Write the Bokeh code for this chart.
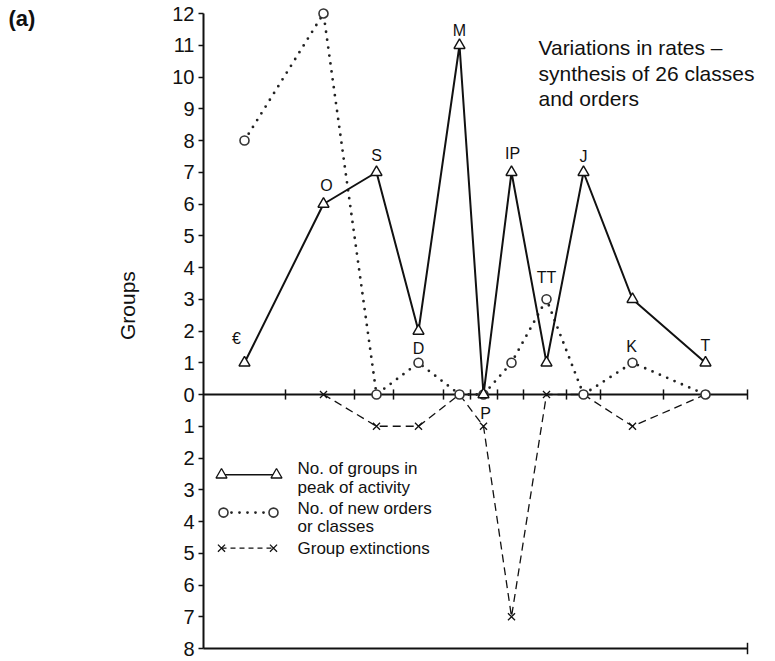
from math import pi
from bokeh.plotting import figure
from bokeh.models import Range1d, FixedTicker, ColumnDataSource
from bokeh.core.properties import value
from bokeh.embed import file_html
from bokeh.resources import INLINE

# ---------------- data ----------------
periods = ["€", "O", "S", "D", "M", "P", "IP", "TT", "J", "K", "T"]
period_x = [41, 120, 173, 215, 256, 280, 308, 343, 380, 429, 502]
peak_groups = [1, 6, 7, 2, 11, 0, 7, 1, 7, 3, 1]          # No. of groups in peak of activity
new_orders = [8, 12, 0, 1, 0, 0, 1, 3, 0, 1, 0]            # No. of new orders or classes
ext_x = [120, 173, 215, 256, 280, 308, 343, 380, 429, 502]
extinctions = [0, 1, 1, 0, 1, 7, 0, 0, 1, 0]               # Group extinctions (plotted downward)
boundaries = [82, 151, 190, 240, 267, 294, 320, 363, 397, 460]
x_end = 544
y_ticks = list(range(-8, 13))

legend_labels = ["No. of groups in", "peak of activity", "No. of new orders", "or classes", "Group extinctions"]
title_lines = ["Variations in rates –", "synthesis of 26 classes", "and orders"]

FONT = "Liberation Sans"
INK = "#111111"

p = figure(width=771, height=658, output_backend="svg", toolbar_location=None,
           x_range=Range1d(0, x_end), y_range=Range1d(-8, 12),
           min_border_left=203, min_border_right=24, min_border_top=13, min_border_bottom=10)
p.outline_line_color = None
p.xgrid.visible = False
p.ygrid.visible = False
p.xaxis.visible = False

ya = p.yaxis[0]
ya.ticker = FixedTicker(ticks=y_ticks)
ya.major_label_overrides = {t: str(abs(t)) for t in y_ticks}
ya.axis_line_width = 2
ya.axis_line_color = INK
ya.major_tick_out = 5
ya.major_tick_in = 0
ya.major_tick_line_width = 1.5
ya.major_tick_line_color = INK
ya.minor_tick_line_color = None
ya.major_label_standoff = 4
ya.major_label_text_font = FONT
ya.major_label_text_font_size = "20px"
ya.major_label_text_color = INK

# zero line and bottom line with ticks
p.segment(x0=[0], y0=[0], x1=[x_end], y1=[0], line_color=INK, line_width=2, level="overlay")
p.segment(x0=[0], y0=[-8], x1=[x_end], y1=[-8], line_color=INK, line_width=2, level="overlay")
p.segment(x0=boundaries + [x_end], y0=[-0.16] * (len(boundaries) + 1),
          x1=boundaries + [x_end], y1=[0.16] * (len(boundaries) + 1),
          line_color=INK, line_width=1.5, level="overlay")
p.segment(x0=[x_end], y0=[-8.18], x1=[x_end], y1=[-7.82], line_color=INK, line_width=1.5, level="overlay")

# series
src_peak = ColumnDataSource(dict(x=period_x, y=peak_groups))
src_new = ColumnDataSource(dict(x=period_x, y=new_orders))
src_ext = ColumnDataSource(dict(x=ext_x, y=[-v for v in extinctions]))

p.line("x", "y", source=src_ext, line_color=INK, line_width=1.3, line_dash="8 5", level="overlay")
p.line("x", "y", source=src_new, line_color="#222222", line_width=2.8, line_dash="0 8",
       line_cap="round", level="overlay")
p.line("x", "y", source=src_peak, line_color=INK, line_width=2, level="overlay")
p.scatter("x", "y", source=src_ext, marker="x", size=10, line_color=INK, line_width=1.3, level="overlay")
p.scatter("x", "y", source=src_new, marker="circle", size=9, fill_color="white",
          line_color="#333333", line_width=1.6, level="overlay")
p.scatter("x", "y", source=src_peak, marker="triangle", size=11, fill_color="white",
          line_color=INK, line_width=1.4, level="overlay")

# period labels (anchored on a series point, offset in screen px)
anchor_y = [peak_groups[0], peak_groups[1], peak_groups[2], peak_groups[3], peak_groups[4],
            peak_groups[5], peak_groups[6], new_orders[7], peak_groups[8], new_orders[9], peak_groups[10]]
lab_dx = [-8, 3, 0, 0, 0, 2, 1, 0, 0, -1, 0]
lab_dy = [-24, -19, -17, 17, -15, 19, -19, -22, -16, -16, -17]
p.text(x=period_x, y=anchor_y, text=periods, x_offset=lab_dx, y_offset=lab_dy,
       text_font=value(FONT), text_font_size="16px", text_align="center",
       text_baseline="middle", text_color=INK, level="overlay")

# legend (drawn by hand, as in the original)
ly1, ly2, ly3 = -2.53, -3.72, -4.84
p.line([18, 73], [ly1, ly1], line_color=INK, line_width=1.5, level="overlay")
p.scatter([18, 73], [ly1, ly1], marker="triangle", size=11, fill_color="white",
          line_color=INK, line_width=1.3, level="overlay")
p.line([20, 70], [ly2, ly2], line_color="#222222", line_width=2.8, line_dash="0 8",
       line_cap="round", level="overlay")
p.scatter([20, 70], [ly2, ly2], marker="circle", size=9, fill_color="white",
          line_color="#333333", line_width=1.6, level="overlay")
p.line([18, 70], [ly3, ly3], line_color=INK, line_width=1.3, line_dash="5 4", level="overlay")
p.scatter([18, 70], [ly3, ly3], marker="x", size=10, line_color=INK, line_width=1.3, level="overlay")

legend_y = [-2.34, -2.94, -3.59, -4.16, -4.84]
p.text(x=[94] * len(legend_labels), y=legend_y, text=legend_labels,
       text_font=value(FONT), text_font_size="17px", text_baseline="middle",
       text_align="left", text_color=INK, level="overlay")

# title block
p.text(x=[335] * 3, y=[10.93, 10.11, 9.32], text=title_lines,
       text_font=value(FONT), text_font_size="21px", text_baseline="middle",
       text_align="left", text_color=INK, level="overlay")

# axis title and panel letter
p.text(x=[-76], y=[2.8], text=["Groups"], angle=pi / 2, text_font=value(FONT), text_font_size="21px",
       text_baseline="middle", text_align="center", text_color=INK, level="overlay")
p.text(x=[-195], y=[11.84], text=["(a)"], text_font=value(FONT), text_font_size="22px",
       text_font_style="bold", text_baseline="middle", text_align="left", text_color=INK, level="overlay")

open("out.html", "w").write(file_html(p, INLINE))
